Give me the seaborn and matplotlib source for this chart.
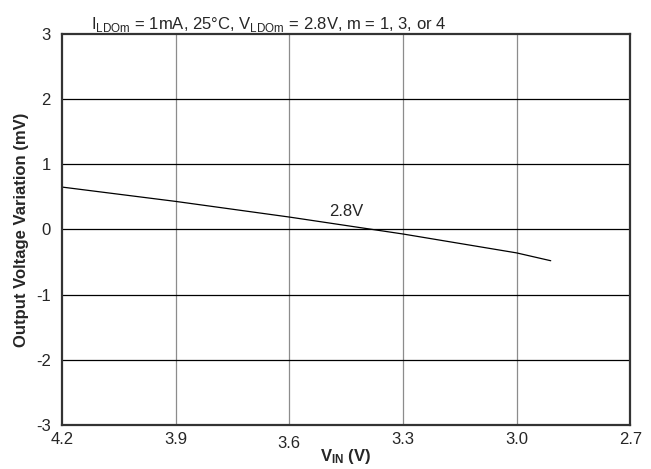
import numpy as np
import pandas as pd
import matplotlib
matplotlib.use('Agg')
import matplotlib.pyplot as plt
import seaborn as sns

# Data
vin = [4.2, 3.9, 3.6, 3.3, 3.0, 2.91]
dvout = [0.65, 0.43, 0.19, -0.07, -0.36, -0.48]
xticks = [4.2, 3.9, 3.6, 3.3, 3.0, 2.7]
yticks = [-3, -2, -1, 0, 1, 2, 3]

df = pd.DataFrame({'vin': vin, 'dv': dvout})

sns.set_style('white')
plt.rcParams['font.family'] = ['Liberation Sans', 'DejaVu Sans']
plt.rcParams['mathtext.fontset'] = 'custom'
plt.rcParams['mathtext.rm'] = 'Liberation Sans'
plt.rcParams['mathtext.bf'] = 'Liberation Sans:bold'

fig = plt.figure(figsize=(6.51, 4.69), dpi=100)
ax = fig.add_axes([0.0952, 0.0938, 0.873, 0.834])

sns.lineplot(data=df, x='vin', y='dv', color='black', linewidth=0.9, ax=ax)

ax.set_xlim(4.2, 2.7)
ax.set_ylim(-3, 3)
ax.set_xticks(xticks)
ax.set_xticklabels([f"{t:.1f}" for t in xticks])
ax.set_yticks(yticks)
ax.set_yticklabels([str(t) for t in yticks])

# grid: grey verticals, black horizontals
for x in xticks[1:-1]:
    ax.axvline(x, color='#8c8c8c', linewidth=0.9, zorder=0)
for y in yticks[1:-1]:
    ax.axhline(y, color='black', linewidth=0.9, zorder=0)

for sp in ax.spines.values():
    sp.set_color('#333333')
    sp.set_linewidth(1.6)

ax.tick_params(axis='both', length=0, labelsize=12)
ax.tick_params(axis='x', pad=5)
ax.tick_params(axis='y', pad=8)
ax.xaxis.get_major_ticks()[2].set_pad(8)

ax.set_xlabel(r"$\mathbf{V_{IN}}$ (V)", fontsize=12, fontweight='bold', labelpad=-3)
ax.set_ylabel("Output Voltage Variation (mV)", fontsize=12, fontweight='bold', labelpad=5)

ax.text(3.45, 0.27, "2.8V", fontsize=12, ha='center', va='center')

fig.text(0.14, 1 - 29 / 469,
         r"I$_{\mathregular{LDOm}}$ = 1mA, 25°C, V$_{\mathregular{LDOm}}$ = 2.8V, m = 1, 3, or 4",
         fontsize=12, ha='left', va='baseline', zorder=5)

fig.savefig('out.png', dpi=100)
